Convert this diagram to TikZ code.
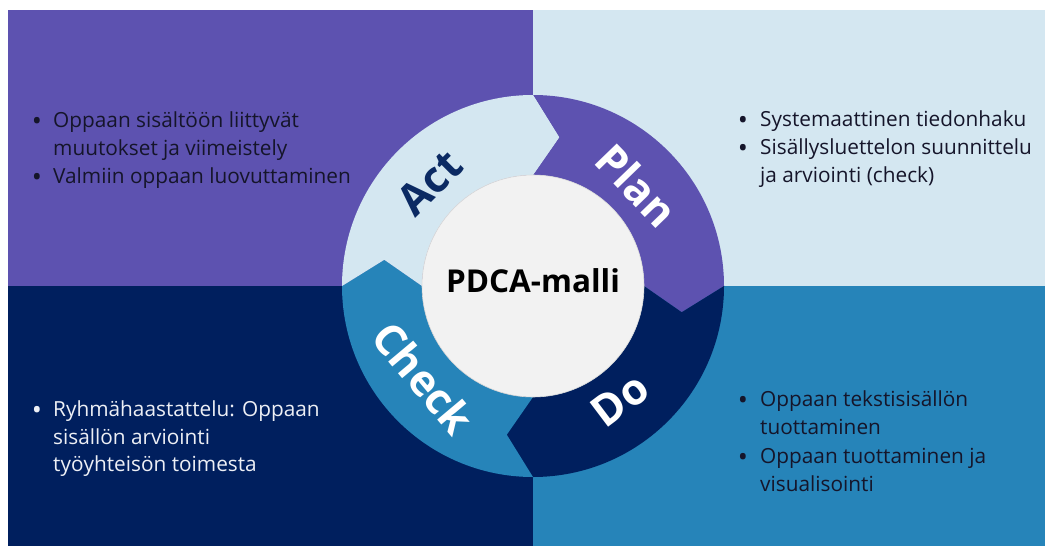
\documentclass[tikz,border=0pt]{standalone}
\usepackage{fontspec}
\setmainfont{Open Sans}
\usetikzlibrary{calc}
\definecolor{cpurple}{HTML}{5D52B0}
\definecolor{clight}{HTML}{D4E7F1}
\definecolor{cnavy}{HTML}{001F5E}
\definecolor{cblue}{HTML}{2684B9}
\definecolor{ccenter}{HTML}{F2F2F2}
\definecolor{tdark}{HTML}{15152A}
\definecolor{tlight}{HTML}{EDEFF5}
\definecolor{actcol}{HTML}{0B2A63}
\begin{document}
\begin{tikzpicture}[x=1pt,y=1pt,
  txt/.style={anchor=base west,inner sep=0pt,font=\fontsize{20.8}{28}\selectfont},
  bul/.style={anchor=base,inner sep=0pt,yshift=-3pt,font=\fontsize{27}{28}\selectfont},
  lbl/.style={inner sep=0pt,font=\fontsize{43}{43}\selectfont\bfseries}]
\useasboundingbox (0,0) rectangle (1046,-546);
\fill[white] (0,0) rectangle (1046,-546);
% quadrants
\fill[cpurple] (8,-10) rectangle (533,-286);
\fill[clight] (533,-10) rectangle (1045,-286);
\fill[cnavy] (8,-286) rectangle (533,-546);
\fill[cblue] (533,-286) rectangle (1045,-546);
% ring
\coordinate (O) at (533,-286);
\foreach \a/\col [evaluate=\a as \b using \a-90, evaluate=\a as \t using \a-100, evaluate=\a as \n using \a-10] in {90/cpurple,0/cnavy,-90/cblue,180/clight}{
  \fill[\col] ($(O)+(\a:191pt)$) arc[start angle=\a, end angle=\b, radius=191pt]
    -- ($(O)+(\t:151pt)$) -- ($(O)+(\b:111pt)$)
    arc[start angle=\b, end angle=\a, radius=111pt]
    -- ($(O)+(\n:151pt)$) -- cycle;
}
\node[circle,fill=ccenter,draw=gray!30,line width=0.6pt,minimum size=222pt,inner sep=0pt] (center) at (O) {};
\node[anchor=base,inner sep=0pt,font=\fontsize{31.5}{31.5}\selectfont\bfseries] (title) at (533,-292) {PDCA-malli};
% ring labels
\node[lbl,text=white,rotate=-46] (plan) at ($(O)+(44:145pt)$) {Plan};
\node[lbl,text=actcol,rotate=45] (act) at ($(O)+(135:146pt)$) {Act};
\node[lbl,text=white,rotate=-50] (check) at ($(O)+(-140:143pt)$) {Check};
\node[lbl,text=white,rotate=37] (do) at ($(O)+(-52.6:143pt)$) {Do};
% top-left text
\begin{scope}[every node/.append style={text=tdark}]
\node[bul] (tlb1) at (37,-127) {•};
\node[txt] (tl1) at (53,-127) {Oppaan sisältöön liittyvät};
\node[txt] (tl2) at (53,-155) {muutokset ja viimeistely};
\node[bul] (tlb2) at (37,-183) {•};
\node[txt] (tl3) at (53,-183) {Valmiin oppaan luovuttaminen};
\end{scope}
% top-right text
\begin{scope}[every node/.append style={text=tdark}]
\node[bul] (trb1) at (743,-126) {•};
\node[txt] (tr1) at (760,-126) {Systemaattinen tiedonhaku};
\node[bul] (trb2) at (743,-154) {•};
\node[txt] (tr2) at (760,-154) {Sisällysluettelon suunnittelu};
\node[txt] (tr3) at (760,-182) {ja arviointi (check)};
\end{scope}
% bottom-left text
\begin{scope}[every node/.append style={text=tlight}]
\node[bul] (blb1) at (37,-416) {•};
\node[txt] (bl1) at (53,-416) {Ryhmähaastattelu: Oppaan};
\node[txt] (bl2) at (53,-444) {sisällön arviointi};
\node[txt] (bl3) at (53,-471) {työyhteisön toimesta};
\end{scope}
% bottom-right text
\begin{scope}[every node/.append style={text=tdark}]
\node[bul] (brb1) at (743,-406) {•};
\node[txt] (br1) at (760,-406) {Oppaan tekstisisällön};
\node[txt] (br2) at (760,-434) {tuottaminen};
\node[bul] (brb2) at (743,-463) {•};
\node[txt] (br3) at (760,-463) {Oppaan tuottaminen ja};
\node[txt] (br4) at (760,-491) {visualisointi};
\end{scope}
\end{tikzpicture}
\end{document}
